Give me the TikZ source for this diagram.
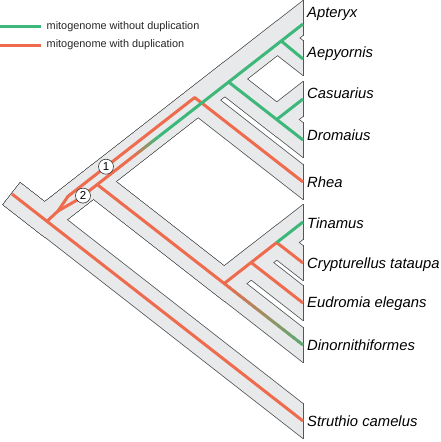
\documentclass[tikz,border=0pt]{standalone}
\usepackage{fontspec}
\setmainfont{Liberation Sans}
\usetikzlibrary{calc}

\definecolor{dupred}{RGB}{238,107,77}
\definecolor{nodupgreen}{RGB}{61,184,122}
\definecolor{tubefill}{RGB}{232,233,234}
\definecolor{tubeline}{RGB}{85,85,85}

% one path per taxon, root stem to beyond the tip
\newcommand{\tubepaths}[1]{%
  \draw[#1] (s0) -- (strx);
  \draw[#1] (s0) -- (rt) -- (apxx);
  \draw[#1] (s0) -- (rt) -- (a) -- (aepx);
  \draw[#1] (s0) -- (rt) -- (ac) -- (c) -- (casx);
  \draw[#1] (s0) -- (rt) -- (ac) -- (drox);
  \draw[#1] (s0) -- (rt) -- (r) -- (rhex);
  \draw[#1] (s0) -- (rt) -- (i) -- (t) -- (tinx);
  \draw[#1] (s0) -- (rt) -- (i) -- (t) -- (tc) -- (cryx);
  \draw[#1] (s0) -- (rt) -- (i) -- (t) -- (tce) -- (eudx);
  \draw[#1] (s0) -- (rt) -- (i) -- (dinx);
}

\begin{document}
\begin{tikzpicture}[x=1pt, y=-1pt,
    tube/.style={line join=miter, line cap=butt},
    gene/.style={line width=3pt, line cap=butt, line join=round},
    taxon/.style={anchor=base west, inner sep=0pt, font=\fontsize{14.8}{16}\selectfont\itshape},
    keytext/.style={anchor=west, inner sep=0pt, text=black!85, font=\fontsize{10.9}{12}\selectfont},
    event/.style={circle, draw=black!80, line width=0.6pt, fill=white, inner sep=0pt,
      minimum size=15pt, font=\fontsize{11.5}{12}\selectfont}]
  \useasboundingbox (0,0) rectangle (441,442);

  % species tree
  \coordinate (s0) at (12,194);
  \coordinate (rt) at (44.7,219.5);
  \coordinate (i) at (93.4,181.5);
  \coordinate (r) at (197.9,100);
  \coordinate (ac) at (224.8,79);
  \coordinate (a) at (277.4,38);
  \coordinate (c) at (276.7,119.5);
  \coordinate (t) at (224.2,283.5);
  \coordinate (tce) at (251.1,262.5);
  \coordinate (tc) at (276.7,242.5);
  \coordinate (apxx) at (330,-3.06);
  \coordinate (aepx) at (330,79.06);
  \coordinate (casx) at (330,77.94);
  \coordinate (drox) at (330,161.06);
  \coordinate (rhex) at (330,203.06);
  \coordinate (tinx) at (330,200.94);
  \coordinate (cryx) at (330,284.06);
  \coordinate (eudx) at (330,324.06);
  \coordinate (dinx) at (330,366.06);
  \coordinate (strx) at (330,442.06);

  \begin{scope}
    \clip (-5,-5) rectangle (303,460);
    \tubepaths{tubeline, line width=28.4pt, tube, shorten <=-0.8pt}
    \tubepaths{tubefill, line width=26.8pt, tube}
  \end{scope}
  \foreach \ty in {18,58,99,140,182,222,263,303,345,421}
    \draw[tubeline, line width=0.8pt] (303,\ty-17.9) -- (303,\ty+17.9);

  % gene tree
  \coordinate (g0) at (47,221.3);
  \coordinate (gy) at (58,211);
  \coordinate (gu) at (68,196.3);
  \coordinate (gr) at (194.7,97.5);
  \coordinate (gl) at (78,199.5);
  \coordinate (gtb) at (97.2,184.5);
  \coordinate (gl1) at (133,156.6);
  \coordinate (gl2) at (158,137.1);
  \coordinate (gac) at (228.6,82);
  \coordinate (gaep) at (281.2,41);
  \coordinate (gc) at (276.7,119.5);
  \coordinate (gt) at (224.2,283.5);
  \coordinate (gtce) at (251.1,262.5);
  \coordinate (gtc) at (276.7,242.5);
  \coordinate (tapx) at (303,24);
  \coordinate (taep) at (303,59);
  \coordinate (tcas) at (303,99);
  \coordinate (tdro) at (303,140);
  \coordinate (trhe) at (303,182);
  \coordinate (ttin) at (303,222);
  \coordinate (tcry) at (303,263);
  \coordinate (teud) at (303,303);
  \coordinate (tdin) at (303,345);
  \coordinate (tstr) at (303,421);

  \draw[gene, dupred] (s0) -- (tstr);
  \draw[gene, dupred] (g0) -- (gy) -- (gu) -- (gr) -- (trhe);
  \draw[gene, dupred] (gy) -- (gl) -- (gl1);
  \foreach \k [evaluate=\k as \pct using {100*(\k-0.5)/12},
               evaluate=\k as \fa using {(\k-1)/12},
               evaluate=\k as \fb using {min(1,\k/12+0.01)}] in {1,...,12}
    \draw[gene, nodupgreen!\pct!dupred] ($(gl1)!\fa!(gl2)$) -- ($(gl1)!\fb!(gl2)$);
  \draw[gene, nodupgreen] (gl2) -- (tapx);
  \draw[gene, nodupgreen] (gaep) -- (taep);
  \draw[gene, nodupgreen] (gac) -- (tdro);
  \draw[gene, nodupgreen] (gc) -- (tcas);

  \draw[gene, dupred] (gtb) -- (gt) -- (gtc) -- (tcry);
  \draw[gene, dupred] (gtce) -- (teud);
  \draw[gene, nodupgreen] (gtc) -- (ttin);
  \foreach \k [evaluate=\k as \pct using {85*(\k-0.5)/16},
               evaluate=\k as \fa using {(\k-1)/16},
               evaluate=\k as \fb using {min(1,\k/16+0.01)}] in {1,...,16}
    \draw[gene, nodupgreen!\pct!dupred] ($(gt)!\fa!(tdin)$) -- ($(gt)!\fb!(tdin)$);

  \node[event] (ev1) at (106,166.7) {1};
  \node[event] (ev2) at (83,195.6) {2};

  % taxa
  \node[taxon] (lapx) at (307,17.3) {Apteryx};
  \node[taxon] (laep) at (307,57.3) {Aepyornis};
  \node[taxon] (lcas) at (307,98.3) {Casuarius};
  \node[taxon] (ldro) at (307,140.3) {Dromaius};
  \node[taxon] (lrhe) at (307,187.3) {Rhea};
  \node[taxon] (ltin) at (307,228.3) {Tinamus};
  \node[taxon] (lcry) at (307,268.3) {Crypturellus tataupa};
  \node[taxon] (leud) at (307,307.3) {Eudromia elegans};
  \node[taxon] (ldin) at (307,350.3) {Dinornithiformes};
  \node[taxon] (lstr) at (307,426.3) {Struthio camelus};

  % key
  \node[keytext] (key1) at (46.5,26.7) {mitogenome without duplication};
  \node[keytext] (key2) at (46.5,45) {mitogenome with duplication};
  \draw[gene, nodupgreen] ([xshift=-6pt]key1.west) -- ++(-40.5,0);
  \draw[gene, dupred] ([xshift=-6pt]key2.west) -- ++(-40.5,0);
\end{tikzpicture}
\end{document}
